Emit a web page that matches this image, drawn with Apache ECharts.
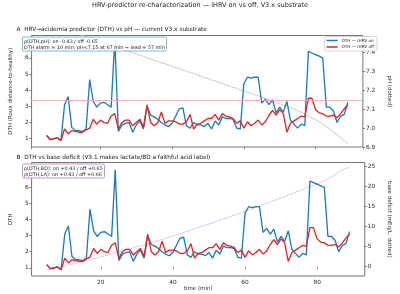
<!DOCTYPE html>
<html><head><meta charset="utf-8">
<script src="https://cdn.jsdelivr.net/npm/echarts@6/dist/echarts.min.js"></script>
<style>html,body{margin:0;padding:0;background:#fff}#c{width:400px;height:294px}</style>
</head><body><div id="c"></div>
<script>
const times = [5,6,7,8,9,10,11,12,13,14,15,16,17,18,19,20,21,22,23,24,25,26,27,28,29,30,31,32,33,34,35,36,37,38,39,40,41,42,43,44,45,46,47,48,49,50,51,52,53,54,55,56,57,58,59,60,61,62,63,64,65,66,67,68,69,70,71,72,73,74,75,76,77,78,79,80,81,82,83,84,85,86,87,88,89];
const dthOn = [1.2,0.95,1.0,1.05,0.9, 3.1,3.6,1.7,1.5,1.5, 1.45,1.6,4.65,3.3,2.95, 3.2,3.25,3.1,2.95,7.1, 1.45,1.85,1.95,2.0,1.4, 1.85,2.1,1.6,3.0,2.45, 2.35,2.2,2.0,1.85,1.75, 1.95,2.4,2.85,2.9,1.8, 1.65,2.0,1.85,1.85,1.75, 1.95,1.6,2.1,1.85,2.35, 2.25,2.25,2.2,1.65,1.6, 4.4,4.8,4.75,4.8,4.8, 3.2,3.45,3.1,3.4,2.6, 2.95,2.65,3.3,2.15,1.9, 1.65,1.9,1.8,6.4,6.3, 6.2,6.1,6.0,2.95,2.95, 2.7,2.0,2.4,2.5,3.25];
const dthOff = [1.2,0.95,1.0,1.05,0.88, 1.6,1.3,1.5,1.45,1.4, 1.4,1.55,1.65,2.2,1.9, 2.15,2.0,1.95,2.4,2.55, 1.6,2.0,2.15,2.15,1.8, 2.0,2.2,1.7,3.1,2.0, 1.8,2.0,2.65,1.95,2.1, 2.1,2.05,1.9,1.9,2.05, 2.5,1.6,1.9,1.95,2.1, 2.25,2.25,2.5,2.15,2.55, 2.4,2.35,2.25,1.95,2.1, 1.65,2.05,1.8,1.95,2.15, 1.85,2.05,2.45,2.75,2.45, 2.8,2.55,1.4,1.95,2.1, 2.25,2.4,2.35,3.5,3.5, 2.8,2.6,2.55,2.4,2.4, 2.45,2.3,2.55,2.85,3.1];
const pH = [7.555,7.549,7.541,7.537,7.528, 7.523,7.515,7.511,7.502,7.497, 7.489,7.485,7.476,7.471,7.463, 7.459,7.450,7.445,7.437,7.432, 7.424,7.419,7.410,7.406,7.397, 7.393,7.384,7.380,7.371,7.367, 7.358,7.354,7.345,7.341,7.332, 7.328,7.319,7.315,7.306,7.302, 7.293,7.289,7.280,7.276,7.267, 7.263,7.254,7.250,7.241,7.237, 7.228,7.224,7.215,7.211,7.202, 7.198,7.189,7.185,7.176,7.172, 7.163,7.159,7.148,7.143,7.134, 7.130,7.121,7.117,7.108,7.102, 7.092,7.085,7.074,7.066,7.054, 7.045,7.032,7.022,7.007,6.995, 6.979,6.966,6.949,6.935,6.918];
const baseDeficit = [-0.8,-0.6,-0.4,-0.2,0.0, 0.2,0.4,0.6,0.85,1.05, 1.3,1.5,1.7,1.95,2.2, 2.45,2.65,2.95,3.15,3.4, 3.65,3.9,4.15,4.4,4.7, 4.95,5.2,5.45,5.75,6.0, 6.3,6.55,6.8,7.1,7.4, 7.7,7.95,8.25,8.55,8.85, 9.15,9.45,9.75,10.05,10.35, 10.65,10.95,11.3,11.65,11.9, 12.2,12.55,12.85,13.2,13.5, 13.85,14.15,14.5,14.85,15.15, 15.5,15.85,16.2,16.55,16.85, 17.2,17.55,17.9,18.25,18.6, 18.95,19.3,19.65,20.0,20.35, 20.7,21.1,21.5,21.95,22.45, 23.0,23.6,24.2,24.6,24.75];
const pHThreshold = 7.15;
const xTickValues = [20,40,60,80];

const FONT = 'DejaVu Sans';
const pair = (xs, ys) => xs.map((x, i) => [x, ys[i]]);
const spine = '#666';
const lblColor = '#2a2a2a';
const TICK_FS = 5.8, NAME_FS = 5.5;

const chart = echarts.init(document.getElementById('c'), null, {renderer: 'canvas'});

function xAxisCfg(gridIndex, showLabels) {
  return {
    type: 'value', gridIndex, min: 0.8, max: 93.2,
    axisLine: {show: false},
    axisTick: {show: true, length: 2.2, lineStyle: {color: spine, width: 0.8}},
    splitLine: {show: false},
    axisLabel: {show: showLabels, fontSize: TICK_FS, color: lblColor, fontFamily: FONT, margin: 3,
      showMinLabel: false, showMaxLabel: false,
      formatter: v => xTickValues.includes(Math.round(v)) && Math.abs(v - Math.round(v)) < 1e-6 ? String(Math.round(v)) : ''},
    name: showLabels ? 'time (min)' : '',
    nameLocation: 'middle', nameGap: 10,
    nameTextStyle: {fontSize: NAME_FS, color: lblColor, fontFamily: FONT}
  };
}
function yAxisCfg(gridIndex, pos, min, max, name, fmt, gap) {
  return {
    type: 'value', gridIndex, position: pos, min, max,
    axisLine: {show: false},
    axisTick: {show: true, length: 2.2, lineStyle: {color: spine, width: 0.8}},
    splitLine: {show: false},
    axisLabel: {fontSize: TICK_FS, color: lblColor, fontFamily: FONT, margin: 3,
      showMinLabel: false, showMaxLabel: false, formatter: fmt},
    name, nameLocation: 'middle', nameGap: gap,
    nameRotate: pos === 'left' ? 90 : -90,
    nameTextStyle: {fontSize: NAME_FS, color: lblColor, fontFamily: FONT}
  };
}
const intFmt = v => Math.abs(v - Math.round(v)) < 1e-6 ? String(Math.round(v)) : '';
const oneDec = v => Math.abs(v*10 - Math.round(v*10)) < 1e-6 ? v.toFixed(1) : '';
const phAxis = yAxisCfg(0, 'right', 6.9, 7.49, 'pH (dotted)', oneDec, 14);
phAxis.axisLabel.showMinLabel = true;

const gridBase = {left: 16.7, right: 21, show: true, borderColor: spine, borderWidth: 0.9, backgroundColor: 'transparent'};

chart.setOption({
  animation: false,
  backgroundColor: '#fff',
  textStyle: {fontFamily: FONT},
  title: [
    {text: 'HRV-predictor re-characterization — iHRV on vs off, V3.x substrate', left: 'center', top: 1.8, padding: 0,
      textStyle: {fontSize: 6.5, fontWeight: 'normal', color: '#222', fontFamily: FONT}},
    {text: 'A  HRV→acidemia predictor (DTH) vs pH — current V3.x substrate', left: 16.5, top: 26.5, padding: 0,
      textStyle: {fontSize: 5.8, fontWeight: 'normal', color: '#222', fontFamily: FONT}},
    {text: 'B  DTH vs base deficit (V3.1 makes lactate/BD a faithful acid label)', left: 16.5, top: 154, padding: 0,
      textStyle: {fontSize: 5.8, fontWeight: 'normal', color: '#222', fontFamily: FONT}},
    {text: 'ρ(DTH,pH): on -0.43 / off -0.65\nDTH alarm = 10 min; pH<7.15 at 67 min → lead = 57 min', left: 22, top: 37,
      padding: [1.5, 2, 1, 2], backgroundColor: 'rgba(255,255,255,0.9)', borderColor: '#7aaed6', borderWidth: 0.9, borderRadius: 1.5,
      textStyle: {fontSize: 4.85, lineHeight: 5.9, fontWeight: 'normal', color: '#222', fontFamily: FONT}},
    {text: 'ρ(DTH,BD): on +0.43 / off +0.65\nρ(DTH,LA): on +0.43 / off +0.66', left: 22, top: 164,
      padding: [1.5, 2, 1, 2], backgroundColor: 'rgba(255,255,255,0.9)', borderColor: '#b88bd0', borderWidth: 0.9, borderRadius: 1.5,
      textStyle: {fontSize: 4.85, lineHeight: 5.9, fontWeight: 'normal', color: '#222', fontFamily: FONT}}
  ],
  legend: {
    data: ['DTH — iHRV on', 'DTH — iHRV off'],
    right: 23, top: 36.5, orient: 'vertical',
    backgroundColor: 'rgba(255,255,255,0.85)', borderColor: '#ccc', borderWidth: 0.8, borderRadius: 2,
    padding: [2, 3, 2, 2], itemGap: 2.5, itemWidth: 11, itemHeight: 1.5, icon: 'rect',
    textStyle: {fontSize: 4.2, color: '#222', fontFamily: FONT, padding: [0, 0, 0, -1]}
  },
  grid: [
    Object.assign({top: 35.5, height: 111.5}, gridBase),
    Object.assign({top: 162.5, height: 113.5}, gridBase)
  ],
  xAxis: [xAxisCfg(0, false), xAxisCfg(1, true)],
  yAxis: [
    yAxisCfg(0, 'left', 0.487, 7.38, 'DTH (Roux distance-to-healthy)', intFmt, 7.5),
    phAxis,
    yAxisCfg(1, 'left', 0.49, 7.55, 'DTH', intFmt, 7.5),
    yAxisCfg(1, 'right', -2.33, 26.05, 'base deficit (mEq/L, dotted)', intFmt, 14)
  ],
  series: [
    {name: 'pH', type: 'line', xAxisIndex: 0, yAxisIndex: 1, data: pair(times, pH), symbol: 'none',
      lineStyle: {color: '#c6c6c6', width: 0.9}, z: 1,
      markLine: {silent: true, symbol: 'none', label: {show: false},
        lineStyle: {color: '#f2a3a3', width: 0.8, type: 'solid'}, data: [{yAxis: pHThreshold}]}},
    {name: 'DTH — iHRV on', type: 'line', xAxisIndex: 0, yAxisIndex: 0, data: pair(times, dthOn), symbol: 'none',
      lineStyle: {color: '#1f77b4', width: 1.3}, itemStyle: {color: '#1f77b4'}, z: 3},
    {name: 'DTH — iHRV off', type: 'line', xAxisIndex: 0, yAxisIndex: 0, data: pair(times, dthOff), symbol: 'none',
      lineStyle: {color: '#d62728', width: 1.3}, itemStyle: {color: '#d62728'}, z: 3},
    {name: 'BD', type: 'line', xAxisIndex: 1, yAxisIndex: 3, data: pair(times, baseDeficit), symbol: 'none',
      lineStyle: {color: '#dcc4ec', width: 0.9}, z: 1},
    {name: 'DTH — iHRV on', type: 'line', xAxisIndex: 1, yAxisIndex: 2, data: pair(times, dthOn), symbol: 'none',
      lineStyle: {color: '#1f77b4', width: 1.3}, itemStyle: {color: '#1f77b4'}, z: 3},
    {name: 'DTH — iHRV off', type: 'line', xAxisIndex: 1, yAxisIndex: 2, data: pair(times, dthOff), symbol: 'none',
      lineStyle: {color: '#d62728', width: 1.3}, itemStyle: {color: '#d62728'}, z: 3}
  ]
});
</script>
</body></html>
